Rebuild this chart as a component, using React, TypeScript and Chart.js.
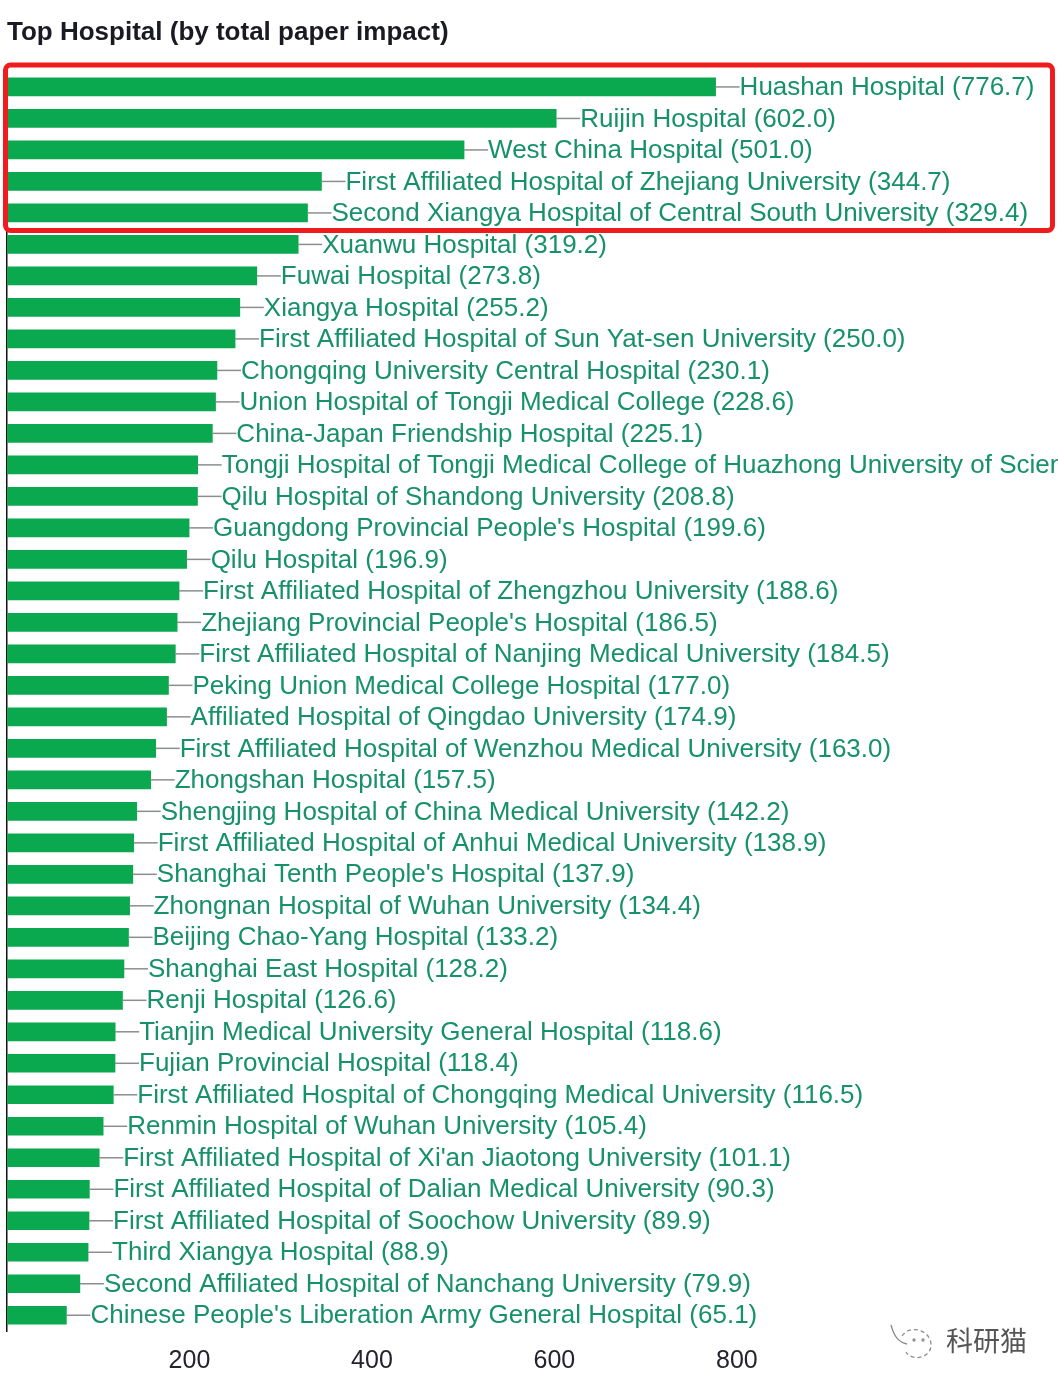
import { useEffect, useRef } from 'react'
import { Chart, Plugin } from 'chart.js/auto'

const hospitals = [
  'Huashan Hospital',
  'Ruijin Hospital',
  'West China Hospital',
  'First Affiliated Hospital of Zhejiang University',
  'Second Xiangya Hospital of Central South University',
  'Xuanwu Hospital',
  'Fuwai Hospital',
  'Xiangya Hospital',
  'First Affiliated Hospital of Sun Yat-sen University',
  'Chongqing University Central Hospital',
  'Union Hospital of Tongji Medical College',
  'China-Japan Friendship Hospital',
  'Tongji Hospital of Tongji Medical College of Huazhong University of Science and Technology',
  'Qilu Hospital of Shandong University',
  "Guangdong Provincial People's Hospital",
  'Qilu Hospital',
  'First Affiliated Hospital of Zhengzhou University',
  "Zhejiang Provincial People's Hospital",
  'First Affiliated Hospital of Nanjing Medical University',
  'Peking Union Medical College Hospital',
  'Affiliated Hospital of Qingdao University',
  'First Affiliated Hospital of Wenzhou Medical University',
  'Zhongshan Hospital',
  'Shengjing Hospital of China Medical University',
  'First Affiliated Hospital of Anhui Medical University',
  "Shanghai Tenth People's Hospital",
  'Zhongnan Hospital of Wuhan University',
  'Beijing Chao-Yang Hospital',
  'Shanghai East Hospital',
  'Renji Hospital',
  'Tianjin Medical University General Hospital',
  'Fujian Provincial Hospital',
  'First Affiliated Hospital of Chongqing Medical University',
  'Renmin Hospital of Wuhan University',
  "First Affiliated Hospital of Xi'an Jiaotong University",
  'First Affiliated Hospital of Dalian Medical University',
  'First Affiliated Hospital of Soochow University',
  'Third Xiangya Hospital',
  'Second Affiliated Hospital of Nanchang University',
  "Chinese People's Liberation Army General Hospital",
]

const impact = [
  776.7, 602.0, 501.0, 344.7, 329.4, 319.2, 273.8, 255.2, 250.0, 230.1,
  228.6, 225.1, 209.0, 208.8, 199.6, 196.9, 188.6, 186.5, 184.5, 177.0,
  174.9, 163.0, 157.5, 142.2, 138.9, 137.9, 134.4, 133.2, 128.2, 126.6,
  118.6, 118.4, 116.5, 105.4, 101.1, 90.3, 89.9, 88.9, 79.9, 65.1,
]

const xTicks = [200, 400, 600, 800]
const chartTitle = 'Top Hospital (by total paper impact)'
const FONT = '"Liberation Sans", Arial, sans-serif'

// leader line + name at the end of each bar
const barLabels: Plugin<'bar'> = {
  id: 'barLabels',
  afterDatasetsDraw(chart) {
    const { ctx } = chart
    const bars = chart.getDatasetMeta(0).data
    ctx.save()
    ctx.font = `26px ${FONT}`
    ctx.textBaseline = 'middle'
    ctx.textAlign = 'left'
    bars.forEach((bar, i) => {
      ctx.strokeStyle = '#8a8f8c'
      ctx.lineWidth = 1.5
      ctx.beginPath()
      ctx.moveTo(bar.x, bar.y)
      ctx.lineTo(bar.x + 24, bar.y)
      ctx.stroke()
      ctx.fillStyle = '#17916a'
      ctx.fillText(`${hospitals[i]} (${impact[i].toFixed(1)})`, bar.x + 24, bar.y + 1)
    })
    ctx.restore()
  },
}

// red highlight box around the top five
const highlightBox: Plugin<'bar'> = {
  id: 'highlightBox',
  afterDraw(chart) {
    const { ctx } = chart
    ctx.save()
    ctx.strokeStyle = '#ee1c1c'
    ctx.lineWidth = 5
    ctx.beginPath()
    ctx.roundRect(5.5, 65, 1047, 165.5, 5)
    ctx.stroke()
    ctx.restore()
  },
}

export default function App() {
  const chartRef = useRef<HTMLCanvasElement>(null)

  useEffect(() => {
    document.body.style.margin = '0'
    if (!chartRef.current) return

    const chart = new Chart(chartRef.current, {
      type: 'bar',
      data: {
        labels: hospitals,
        datasets: [
          {
            data: impact,
            backgroundColor: '#0aa84f',
            barThickness: 18,
          },
        ],
      },
      options: {
        indexAxis: 'y',
        animation: false,
        responsive: false,
        layout: { padding: { left: 7, right: 0, top: 13, bottom: 5 } },
        plugins: {
          legend: { display: false },
          tooltip: { enabled: false },
          title: {
            display: true,
            text: chartTitle,
            align: 'start',
            color: '#1a1a22',
            font: { family: FONT, size: 26, weight: 'bold' },
            padding: { top: 4, bottom: 23 },
          },
        },
        scales: {
          x: {
            min: 0,
            max: 1152,
            afterBuildTicks: (axis) => {
              axis.ticks = xTicks.map((value) => ({ value }))
            },
            grid: { display: false },
            border: { display: false },
            ticks: {
              color: '#26222e',
              font: { family: FONT, size: 25 },
              padding: 7,
              maxRotation: 0,
            },
          },
          y: {
            afterFit: (axis) => {
              axis.width = 0
            },
            grid: { display: false },
            border: { display: true, color: '#111', width: 1.5 },
            ticks: { display: false },
          },
        },
      },
      plugins: [barLabels, highlightBox],
    })

    return () => chart.destroy()
  }, [])

  return (
    <div style={{ position: 'relative', width: 1058, height: 1388, overflow: 'hidden', background: '#fff' }}>
      <canvas ref={chartRef} width={1058} height={1388} style={{ display: 'block' }} />
      <svg width={50} height={44} style={{ position: 'absolute', left: 888, top: 1322 }} fill="none" stroke="#8c8c8c" strokeWidth={1.3}>
        <path d="M3 3 C6 14 10 20 19 22" />
        <path d="M14 14 C22 2 42 8 43 22 C44 36 24 40 18 30" strokeDasharray="4 3" />
        <circle cx={26} cy={18} r={1} />
        <circle cx={35} cy={18} r={1} />
      </svg>
      <div style={{ position: 'absolute', left: 946, top: 1324, fontFamily: '"Noto Sans CJK SC"', fontSize: 27, lineHeight: '32px', color: '#555' }}>
        科研猫
      </div>
    </div>
  )
}
